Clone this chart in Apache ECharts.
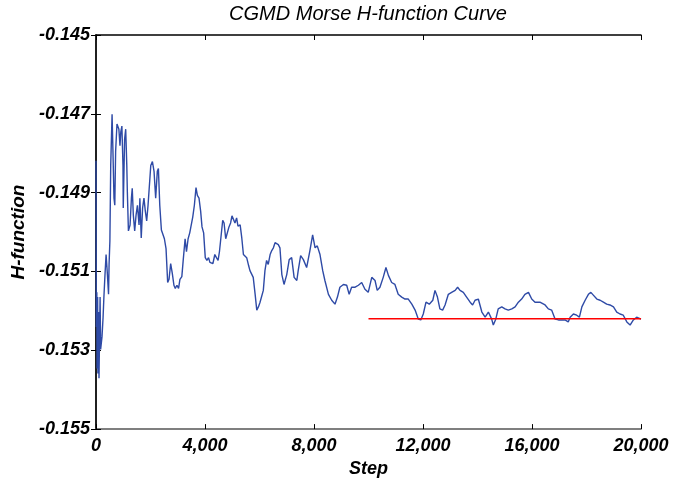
<!DOCTYPE html>
<html>
<head>
<meta charset="utf-8">
<title>CGMD Morse H-function Curve</title>
<script src="https://cdn.jsdelivr.net/npm/echarts@6/dist/echarts.min.js"></script>
<style>
  html, body { margin: 0; padding: 0; background: #fff; }
  #chart { width: 674px; height: 483px; }
</style>
</head>
<body>
<div id="chart"></div>
<script>
// Simulation step of each sample
const steps = [
  0, 10, 30, 40, 60, 70, 100, 110, 150, 170, 220, 260, 290, 330, 370, 390, 410, 460, 480, 510,
  540, 590, 620, 660, 690, 720, 770, 810, 840, 880, 910, 950, 990, 1000, 1050, 1090, 1130, 1150, 1190, 1250,
  1300, 1330, 1370, 1420, 1470, 1520, 1580, 1610, 1660, 1710, 1760, 1810, 1860, 1910, 1960, 2010, 2070, 2130, 2190, 2250,
  2290, 2340, 2400, 2460, 2510, 2570, 2630, 2680, 2740, 2800, 2860, 2910, 2970, 3030, 3080, 3150, 3200, 3270, 3320, 3380,
  3440, 3490, 3550, 3610, 3670, 3720, 3780, 3840, 3890, 3950, 4010, 4070, 4130, 4180, 4240, 4290, 4360, 4420, 4480, 4530,
  4590, 4650, 4700, 4760, 4820, 4880, 4940, 4990, 5050, 5100, 5160, 5210, 5290, 5350, 5410, 5470, 5530, 5600, 5650, 5770,
  5840, 5900, 5960, 6020, 6080, 6140, 6200, 6260, 6320, 6390, 6450, 6510, 6570, 6630, 6690, 6750, 6820, 6900, 7000, 7090,
  7180, 7270, 7370, 7420, 7510, 7610, 7730, 7850, 7950, 8040, 8120, 8220, 8320, 8400, 8530, 8650, 8770, 8860, 8950, 9080,
  9200, 9290, 9380, 9510, 9630, 9750, 9870, 9990, 10120, 10240, 10320, 10420, 10540, 10640, 10730, 10850, 10970, 11090, 11220, 11340,
  11460, 11590, 11710, 11830, 11920, 12010, 12110, 12230, 12360, 12440, 12530, 12620, 12720, 12810, 12930, 13050, 13180, 13270, 13360, 13480,
  13600, 13730, 13820, 13910, 14030, 14160, 14280, 14400, 14520, 14580, 14670, 14760, 14890, 15010, 15130, 15260, 15380, 15500, 15620, 15740,
  15870, 15990, 16110, 16290, 16480, 16600, 16720, 16850, 16970, 17090, 17210, 17330, 17400, 17520, 17640, 17740, 17830, 17950, 18070, 18160,
  18250, 18380, 18500, 18620, 18740, 18860, 18990, 19110, 19230, 19350, 19480, 19600, 19720, 19840, 20000
];

// H-function value at each step
const hValues = [
  -0.14819, -0.15241, -0.15153, -0.15346, -0.15165, -0.15359, -0.15203, -0.15371, -0.15165, -0.15298,
  -0.15266, -0.15216, -0.15165, -0.15108, -0.15057, -0.15052, -0.15098, -0.15158, -0.15082, -0.15022,
  -0.14831, -0.14701, -0.14789, -0.14914, -0.14932, -0.14796, -0.14726, -0.14731, -0.14739, -0.14781,
  -0.14746, -0.14731, -0.14831, -0.14939, -0.14764, -0.14739, -0.14831, -0.14897, -0.14997, -0.14982,
  -0.14914, -0.14889, -0.14957, -0.14997, -0.14957, -0.14932, -0.14982, -0.14914, -0.15015, -0.14939,
  -0.14914, -0.14947, -0.14972, -0.14932, -0.14932, -0.14831, -0.14821, -0.14846, -0.14914, -0.14846,
  -0.14839, -0.14932, -0.14995, -0.14990, -0.15017, -0.15042, -0.15128, -0.15120, -0.15080, -0.15105,
  -0.15135, -0.15143, -0.15135, -0.15143, -0.15120, -0.15113, -0.15072, -0.15017, -0.15050, -0.15017,
  -0.15002, -0.15002, -0.14962, -0.14932, -0.14887, -0.14907, -0.14914, -0.14947, -0.14987, -0.15002,
  -0.15065, -0.15072, -0.15065, -0.15077, -0.15080, -0.15080, -0.15057, -0.15065, -0.15072, -0.15050,
  -0.15010, -0.14970, -0.14977, -0.15017, -0.15017, -0.14987, -0.14977, -0.14959, -0.14959, -0.14977,
  -0.14964, -0.14985, -0.14982, -0.15015, -0.15057, -0.15052, -0.15065, -0.15085, -0.15098, -0.15115,
  -0.15158, -0.15198, -0.15190, -0.15178, -0.15183, -0.15148, -0.15098, -0.15072, -0.15082, -0.15057,
  -0.15047, -0.15040, -0.15027, -0.15022, -0.15032, -0.15040, -0.15108, -0.15133, -0.15108, -0.15070,
  -0.15065, -0.15115, -0.15123, -0.15098, -0.15060, -0.15070, -0.15090, -0.15047, -0.15007, -0.15040,
  -0.15035, -0.15057, -0.15098, -0.15123, -0.15158, -0.15173, -0.15183, -0.15165, -0.15140, -0.15133,
  -0.15135, -0.15158, -0.15140, -0.15140, -0.15135, -0.15128, -0.15145, -0.15153, -0.15115, -0.15123,
  -0.15148, -0.15140, -0.15115, -0.15090, -0.15110, -0.15128, -0.15133, -0.15158, -0.15165, -0.15170,
  -0.15170, -0.15183, -0.15198, -0.15221, -0.15223, -0.15208, -0.15178, -0.15183, -0.15173, -0.15148,
  -0.15165, -0.15195, -0.15198, -0.15185, -0.15158, -0.15153, -0.15148, -0.15140, -0.15148, -0.15153,
  -0.15165, -0.15178, -0.15185, -0.15173, -0.15170, -0.15203, -0.15216, -0.15203, -0.15221, -0.15236,
  -0.15221, -0.15195, -0.15190, -0.15195, -0.15198, -0.15195, -0.15190, -0.15178, -0.15170, -0.15158,
  -0.15153, -0.15170, -0.15178, -0.15178, -0.15185, -0.15195, -0.15198, -0.15221, -0.15223, -0.15223,
  -0.15223, -0.15228, -0.15216, -0.15208, -0.15211, -0.15216, -0.15190, -0.15173, -0.15158, -0.15153,
  -0.15160, -0.15170, -0.15173, -0.15178, -0.15183, -0.15185, -0.15190, -0.15203, -0.15208, -0.15211,
  -0.15228, -0.15236, -0.15223, -0.15216, -0.15221
];

// Converged reference level over the second half of the run
const refSteps = [10000, 20000];
const refValues = [-0.1522, -0.1522];

// Axis ticks
const xTicks = [0, 4000, 8000, 12000, 16000, 20000];
const yTicks = [-0.155, -0.153, -0.151, -0.149, -0.147, -0.145];

const FONT = '"Liberation Sans", Arial, sans-serif';

function withCommas(v) {
  return String(Math.round(v)).replace(/\B(?=(\d{3})+(?!\d))/g, ',');
}

const curve = steps.map((s, i) => [s, hValues[i]]);
const refLine = refSteps.map((s, i) => [s, refValues[i]]);

const labelStyle = {
  color: '#000',
  fontFamily: FONT,
  fontStyle: 'italic',
  fontWeight: 'bold',
  fontSize: 18
};

const chart = echarts.init(document.getElementById('chart'), null, { renderer: 'canvas' });

chart.setOption({
  animation: false,
  backgroundColor: '#fff',
  title: {
    text: 'CGMD Morse H-function Curve',
    left: 368,
    top: 4,
    padding: 0,
    textAlign: 'center',
    textStyle: {
      color: '#000',
      fontFamily: FONT,
      fontStyle: 'italic',
      fontWeight: 'normal',
      fontSize: 20
    }
  },
  grid: { left: 96, right: 33, top: 35, bottom: 50, containLabel: false },
  xAxis: [
    {
      type: 'value',
      min: 0,
      max: 20000,
      interval: 4000,
      position: 'bottom',
      name: 'Step',
      nameLocation: 'middle',
      nameGap: 26,
      nameTextStyle: labelStyle,
      axisLine: { lineStyle: { color: '#555', width: 1.5 } },
      axisTick: { inside: true, length: 5, lineStyle: { color: '#000' }, customValues: xTicks },
      axisLabel: Object.assign({ margin: 8, formatter: withCommas, customValues: xTicks }, labelStyle),
      splitLine: { show: false }
    },
    {
      type: 'value',
      min: 0,
      max: 20000,
      interval: 4000,
      position: 'top',
      axisLine: { lineStyle: { color: '#000', width: 1.5 } },
      axisTick: { inside: true, length: 5, lineStyle: { color: '#000' }, customValues: xTicks },
      axisLabel: { show: false },
      splitLine: { show: false }
    }
  ],
  yAxis: [
    {
      type: 'value',
      min: -0.155,
      max: -0.145,
      position: 'left',
      name: 'H-function',
      nameLocation: 'middle',
      nameGap: 58,
      nameTextStyle: Object.assign({}, labelStyle, { fontSize: 19 }),
      axisLine: { show: true, lineStyle: { color: '#555', width: 1.5 } },
      axisTick: { show: true, inside: true, length: 5, lineStyle: { color: '#000' }, customValues: yTicks },
      axisLabel: Object.assign({
        margin: 6,
        customValues: yTicks,
        formatter: v => v.toFixed(3)
      }, labelStyle),
      splitLine: { show: false }
    },
    {
      type: 'value',
      min: -0.155,
      max: -0.145,
      position: 'right',
      axisLine: { show: true, lineStyle: { color: '#000', width: 1.5 } },
      axisTick: { show: true, inside: true, length: 5, lineStyle: { color: '#000' }, customValues: yTicks },
      axisLabel: { show: false },
      splitLine: { show: false }
    }
  ],
  series: [
    {
      name: 'H-function',
      type: 'line',
      data: curve,
      xAxisIndex: 0,
      yAxisIndex: 0,
      showSymbol: false,
      symbol: 'none',
      lineStyle: { color: '#2E4AA6', width: 1.4 },
      z: 2
    },
    {
      name: 'Reference',
      type: 'line',
      data: refLine,
      xAxisIndex: 0,
      yAxisIndex: 0,
      showSymbol: false,
      symbol: 'none',
      lineStyle: { color: '#FF0000', width: 1.6 },
      z: 3
    }
  ]
});
</script>
</body>
</html>
